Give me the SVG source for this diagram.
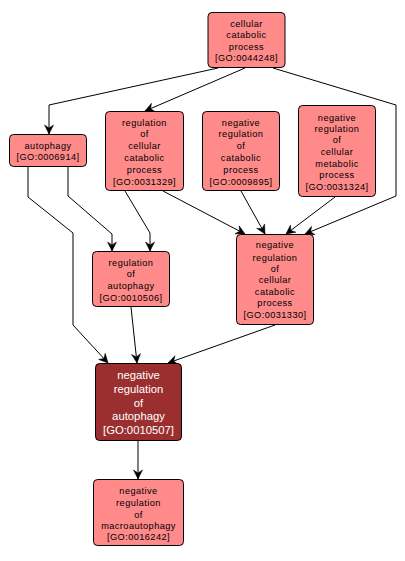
<svg xmlns="http://www.w3.org/2000/svg" width="405" height="561" viewBox="0 0 405 561">
<style>
.n rect{fill:#fe8a8a;stroke:#000;stroke-width:1}
.n text{font-family:"Liberation Sans",Arial,sans-serif;font-size:9.2px;letter-spacing:0.45px;text-anchor:middle;fill:#000}
.d rect{fill:#9b2f2f;stroke:#000;stroke-width:1}
.d text{font-family:"Liberation Sans",Arial,sans-serif;font-size:11.3px;text-anchor:middle;fill:#fff}
.e path{fill:none;stroke:#000;stroke-width:1}
</style>
<defs>
<marker id="a" markerUnits="userSpaceOnUse" markerWidth="12" markerHeight="12" refX="0" refY="0" viewBox="-10 -6 12 12" orient="auto" overflow="visible">
<path d="M-9,-4.5 L0,0 L-9,4.5 L-6,0 z" fill="#000" stroke="#000" stroke-width="0.5"/>
</marker>
</defs>
<rect width="405" height="561" fill="#fff"/>
<g id="connectors" class="e">
<path d="M218,68 L49,105 L49,134" marker-end="url(#a)"/>
<path d="M245,68 L145,111" marker-end="url(#a)"/>
<path d="M273,68 L396,105 L396,196 L305,234" marker-end="url(#a)"/>
<path d="M68,167 L68,196 L112,234 L112,251" marker-end="url(#a)"/>
<path d="M28,167 L28,197 L73,233 L73,325 L108,363" marker-end="url(#a)"/>
<path d="M125,191 L150,233 L150,251" marker-end="url(#a)"/>
<path d="M163,191 L245,234" marker-end="url(#a)"/>
<path d="M241,191 L265,234" marker-end="url(#a)"/>
<path d="M335,197 L286,234" marker-end="url(#a)"/>
<path d="M131,307 L137,363" marker-end="url(#a)"/>
<path d="M275,325 L168,363" marker-end="url(#a)"/>
<path d="M138,441 L138,479" marker-end="url(#a)"/>
</g>
<g id="GO0044248" class="n">
<rect x="208" y="12.5" width="77" height="55" rx="4"/>
<text x="246.5" y="26.5">cellular</text>
<text x="246.5" y="38.2">catabolic</text>
<text x="246.5" y="50.2">process</text>
<text x="246.5" y="61.2">[GO:0044248]</text>
</g>
<g id="GO0006914" class="n">
<rect x="9.5" y="134.5" width="77" height="32" rx="4"/>
<text x="48" y="149.2">autophagy</text>
<text x="48" y="160.2">[GO:0006914]</text>
</g>
<g id="GO0031329" class="n">
<rect x="105.5" y="111.5" width="78" height="79" rx="4"/>
<text x="144.5" y="125.5">regulation</text>
<text x="144.5" y="137.2">of</text>
<text x="144.5" y="149.2">cellular</text>
<text x="144.5" y="161.2">catabolic</text>
<text x="144.5" y="172.5">process</text>
<text x="144.5" y="184.5">[GO:0031329]</text>
</g>
<g id="GO0009895" class="n">
<rect x="202.5" y="111.5" width="77" height="79" rx="4"/>
<text x="241" y="125.5">negative</text>
<text x="241" y="137.2">regulation</text>
<text x="241" y="149.2">of</text>
<text x="241" y="161.2">catabolic</text>
<text x="241" y="172.5">process</text>
<text x="241" y="184.5">[GO:0009895]</text>
</g>
<g id="GO0031324" class="n">
<rect x="298.5" y="105.5" width="77" height="91" rx="4"/>
<text x="337" y="120.5">negative</text>
<text x="337" y="131.5">regulation</text>
<text x="337" y="143.2">of</text>
<text x="337" y="155.2">cellular</text>
<text x="337" y="166.5">metabolic</text>
<text x="337" y="178.2">process</text>
<text x="337" y="190.2">[GO:0031324]</text>
</g>
<g id="GO0010506" class="n">
<rect x="92.5" y="251.5" width="77" height="55" rx="4"/>
<text x="131" y="266.2">regulation</text>
<text x="131" y="277.2">of</text>
<text x="131" y="289.2">autophagy</text>
<text x="131" y="301.2">[GO:0010506]</text>
</g>
<g id="GO0031330" class="n">
<rect x="236.5" y="234.5" width="77" height="90" rx="4"/>
<text x="275" y="247.8">negative</text>
<text x="275" y="260.5">regulation</text>
<text x="275" y="271.5">of</text>
<text x="275" y="283.2">cellular</text>
<text x="275" y="295.2">catabolic</text>
<text x="275" y="306.2">process</text>
<text x="275" y="317.8">[GO:0031330]</text>
</g>
<g id="GO0010507" class="d">
<rect x="95.5" y="363.5" width="86" height="77" rx="4"/>
<text x="138.5" y="379.3">negative</text>
<text x="138.5" y="392.7">regulation</text>
<text x="138.5" y="406.7">of</text>
<text x="138.5" y="420">autophagy</text>
<text x="138.5" y="434.3">[GO:0010507]</text>
</g>
<g id="GO0016242" class="n">
<rect x="93.5" y="479.5" width="90" height="66" rx="4"/>
<text x="138.5" y="494.2">negative</text>
<text x="138.5" y="506">regulation</text>
<text x="138.5" y="518">of</text>
<text x="138.5" y="528.5">macroautophagy</text>
<text x="138.5" y="539.5">[GO:0016242]</text>
</g>
</svg>
